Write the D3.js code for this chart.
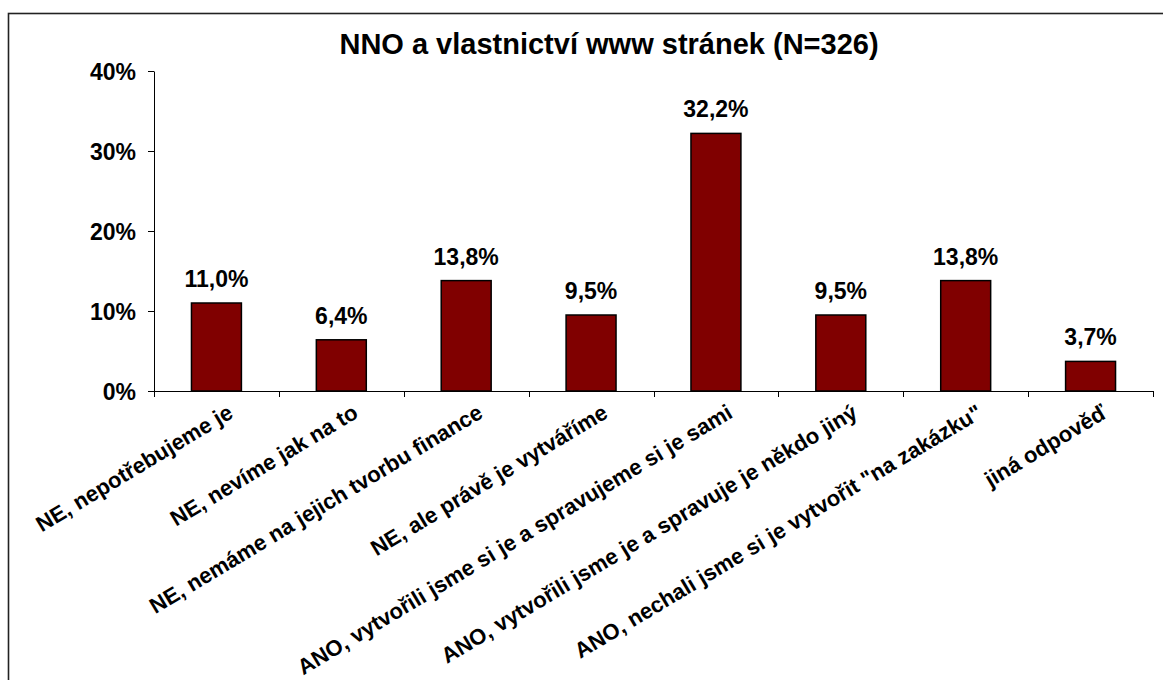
<!DOCTYPE html>
<html>
<head>
<meta charset="utf-8">
<script src="https://cdn.jsdelivr.net/npm/d3@7"></script>
<style>
  body { margin: 0; background: #fff; }
  text { font-family: "Liberation Sans", Arial, sans-serif; font-weight: bold; fill: #000; }
</style>
</head>
<body>
<svg id="chart" width="1163" height="680"></svg>
<script>
// ----------

const CHART_TITLE = "NNO a vlastnictví www stránek (N=326)";

const categories = [
  "NE, nepotřebujeme je",
  "NE, nevíme jak na to",
  "NE, nemáme na jejich tvorbu finance",
  "NE, ale právě je vytváříme",
  "ANO, vytvořili jsme si je a spravujeme si je sami",
  "ANO, vytvořili jsme je a spravuje je někdo jiný",
  "ANO, nechali jsme si je vytvořit \"na zakázku\"",
  "jiná odpověď"
];

const values = [11.0, 6.4, 13.8, 9.5, 32.2, 9.5, 13.8, 3.7];

const yTicks = [0, 10, 20, 30, 40];

const BAR_COLOR = "#800000";

// ----------

function formatValue(v) {
  return v.toFixed(1).replace(".", ",") + "%";
}

function drawChart() {
  let svg = d3.select("#chart");
  let left = 154, right = 1153, top = 71, bottom = 391;

  // outer frame (only top and left visible in the picture)
  svg.append("rect")
    .attr("x", 8.5).attr("y", 13.5)
    .attr("width", 1200).attr("height", 700)
    .attr("fill", "none").attr("stroke", "#222").attr("stroke-width", 1.6);

  let x = d3.scaleBand().domain(categories).range([left, right]).paddingInner(0.6).paddingOuter(0.3);
  let xTicksScale = d3.scaleLinear().domain([0, categories.length]).range([left, right]);
  let y = d3.scaleLinear().domain([0, 40]).range([bottom, top]);

  // y axis
  let yAxis = svg.append("g")
    .attr("transform", "translate(" + left + ",0)")
    .call(d3.axisLeft(y).tickValues(yTicks).tickSize(6).tickSizeOuter(0).tickFormat(function (d) { return d + "%"; }));
  yAxis.select(".domain").attr("stroke", "#000");
  yAxis.selectAll(".tick line").attr("stroke", "#000");
  yAxis.selectAll(".tick text")
    .attr("x", -18)
    .attr("dy", "0.36em")
    .style("font-size", "23px")
    .style("font-family", "'Liberation Sans', Arial, sans-serif")
    .style("font-weight", "bold");

  // x axis line + ticks between categories
  let g = svg.append("g");
  g.append("line")
    .attr("x1", left).attr("x2", right)
    .attr("y1", bottom + 0.5).attr("y2", bottom + 0.5)
    .attr("stroke", "#000");
  g.selectAll("line.xtick")
    .data(d3.range(categories.length + 1))
    .enter()
    .append("line")
    .attr("class", "xtick")
    .attr("x1", function (i) { return Math.round(xTicksScale(i)) + 0.5; })
    .attr("x2", function (i) { return Math.round(xTicksScale(i)) + 0.5; })
    .attr("y1", bottom).attr("y2", bottom + 6)
    .attr("stroke", "#000");

  // bars
  svg.selectAll("rect.bar")
    .data(values)
    .enter()
    .append("rect")
    .attr("class", "bar")
    .attr("x", function (d, i) { return x(categories[i]); })
    .attr("width", x.bandwidth())
    .attr("y", function (d) { return y(d); })
    .attr("height", function (d) { return bottom - y(d); })
    .attr("fill", BAR_COLOR)
    .attr("stroke", "#000")
    .attr("stroke-width", 1.5);

  // value labels
  svg.selectAll("text.value")
    .data(values)
    .enter()
    .append("text")
    .attr("class", "value")
    .attr("x", function (d, i) { return x(categories[i]) + x.bandwidth() / 2; })
    .attr("y", function (d) { return y(d) - 16; })
    .attr("text-anchor", "middle")
    .style("font-size", "23px")
    .text(formatValue);

  // category labels, rotated
  svg.selectAll("text.cat")
    .data(categories)
    .enter()
    .append("text")
    .attr("class", "cat")
    .attr("text-anchor", "end")
    .attr("transform", function (d) {
      let cx = x(d) + x.bandwidth() / 2;
      return "translate(" + (cx + 10) + "," + (bottom + 12) + ") rotate(-31)";
    })
    .attr("dy", "0.72em")
    .style("font-size", "22px")
    .text(function (d) { return d; });

  // title
  svg.append("text")
    .attr("x", 609).attr("y", 54)
    .attr("text-anchor", "middle")
    .style("font-size", "29px")
    .text(CHART_TITLE);
}

drawChart();
</script>
</body>
</html>
